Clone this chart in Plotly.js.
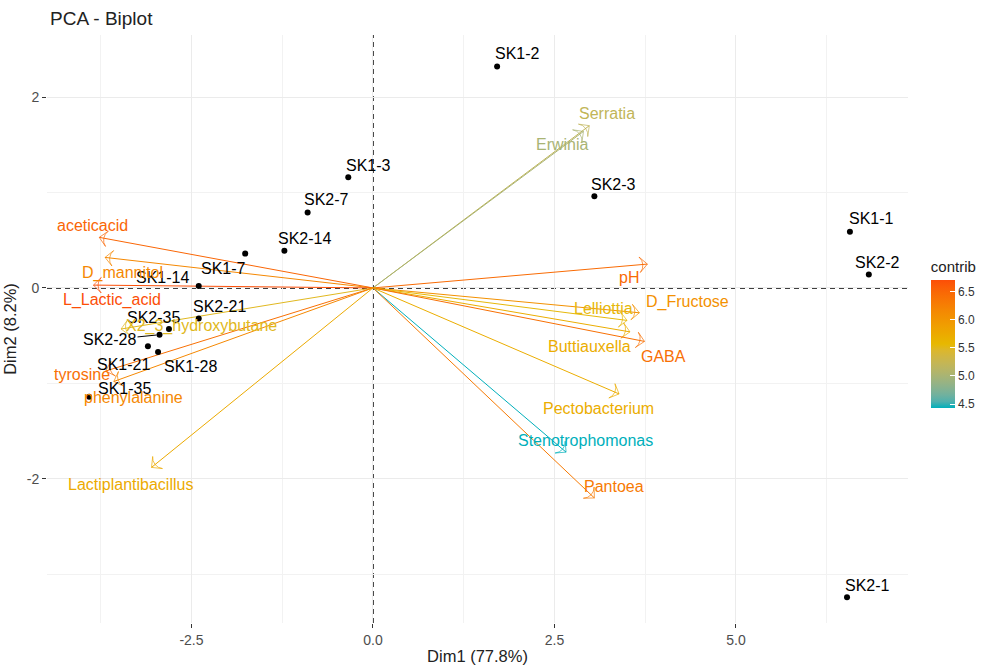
<!DOCTYPE html>
<html>
<head>
<meta charset="utf-8">
<script src="https://cdn.plot.ly/plotly-3.0.1.min.js"></script>
<style>
html,body{margin:0;padding:0;background:#fff;}
#chart{width:992px;height:666px;}
</style>
</head>
<body>
<div id="chart"></div>
<script>
// ---- Individuals (samples) ----
const indNames = ["SK1-1","SK1-2","SK1-3","SK1-7","SK1-14","SK1-21","SK1-28","SK1-35",
                  "SK2-1","SK2-2","SK2-3","SK2-7","SK2-14","SK2-21","SK2-28","SK2-35"];
const indX = [6.57, 1.71, -0.34, -1.76, -2.40, -3.10, -2.96, -3.91,
              6.53, 6.83, 3.05, -0.90, -1.22, -2.40, -2.94, -2.81];
const indY = [0.59, 2.32, 1.16, 0.36, 0.02, -0.61, -0.67, -1.14,
              -3.24, 0.14, 0.96, 0.79, 0.39, -0.32, -0.49, -0.43];

// ---- Variables (arrows) ----
const varNames = ["aceticacid","D_mannitol","L_Lactic_acid","X2_3_hydroxybutane","tyrosine",
                  "phenylalanine","Lactiplantibacillus","Serratia","Erwinia","pH","D_Fructose",
                  "Lelliottia","Buttiauxella","GABA","Pectobacterium","Stenotrophomonas","Pantoea"];
const varX = [-3.77, -3.69, -3.85, -3.47, -3.68, -3.57, -3.05, 2.98, 2.90, 3.78, 3.67,
              3.50, 3.54, 3.74, 3.39, 2.66, 3.05];
const varY = [0.53, 0.32, 0.03, -0.43, -0.87, -0.98, -1.88, 1.70, 1.64, 0.25, -0.26,
              -0.34, -0.46, -0.56, -1.11, -1.72, -2.20];
const varContrib = [6.50, 6.15, 6.70, 5.50, 6.40, 6.15, 5.75, 5.20, 5.00, 6.45, 6.05,
                    5.55, 5.70, 6.40, 5.70, 4.43, 6.30];

// ---- Axis ticks ----
const xTickVals = [-2.5, 0, 2.5, 5];
const xTickText = ["-2.5", "0.0", "2.5", "5.0"];
const yTickVals = [-2, 0, 2];
const yTickText = ["-2", "0", "2"];
const cbTickVals = [4.5, 5.0, 5.5, 6.0, 6.5];
const cbTickText = ["4.5", "5.0", "5.5", "6.0", "6.5"];

// ---- Label nudges in pixels (styling, repel-like placement) ----
const indLabDx = [22, 20, 20, -22, -36, -24, 32, 35, 20, 9, 19, 19, 20, 21, -50, -15];
const indLabDy = [-13, -13, -12, 15, -9, 18, 15, -8, -12, -12, -12, -13, -12, -12, 5, -12];
const indLabSeg = [0,0,0,0,0,0,0,0,0,0,0,0,0,0,1,0];
const varLabDx = [-7, 17, 19, 80, -24, 20, -21, 18, -21, -18, 48, -24, -40, 19, -21, 19, 20];
const varLabDy = [-12, 16, 15, -3, 3, 16, 17, -12, 13, 13, -11, -12, 15, 15, 15, -12, -11];

// gradient colours (teal -> gold -> orange-red), interpolated in Lab space like ggplot
const gradCols = ["#00AFBB", "#E7B800", "#FC4E07"];

function hexToRgb(h){return [parseInt(h.slice(1,3),16),parseInt(h.slice(3,5),16),parseInt(h.slice(5,7),16)];}
function srgbToLin(c){c/=255;return c<=0.04045?c/12.92:Math.pow((c+0.055)/1.055,2.4);}
function linToSrgb(c){const v=c<=0.0031308?12.92*c:1.055*Math.pow(c,1/2.4)-0.055;return Math.max(0,Math.min(255,Math.round(v*255)));}
const WX=0.95047, WY=1, WZ=1.08883;
function fLab(t){return t>0.008856?Math.cbrt(t):(7.787*t+16/116);}
function fInv(t){return t>0.206893?t*t*t:(t-16/116)/7.787;}
function rgbToLab(rgb){
  const [r,g,b]=rgb.map(srgbToLin);
  const X=(0.4124*r+0.3576*g+0.1805*b)/WX, Y=(0.2126*r+0.7152*g+0.0722*b)/WY, Z=(0.0193*r+0.1192*g+0.9505*b)/WZ;
  const fx=fLab(X), fy=fLab(Y), fz=fLab(Z);
  return [116*fy-16, 500*(fx-fy), 200*(fy-fz)];
}
function labToRgb(lab){
  const fy=(lab[0]+16)/116, fx=fy+lab[1]/500, fz=fy-lab[2]/200;
  const X=fInv(fx)*WX, Y=fInv(fy)*WY, Z=fInv(fz)*WZ;
  const r=3.2406*X-1.5372*Y-0.4986*Z, g=-0.9689*X+1.8758*Y+0.0415*Z, b=0.0557*X-0.2040*Y+1.0570*Z;
  return [linToSrgb(r),linToSrgb(g),linToSrgb(b)];
}
const gradLab = gradCols.map(c=>rgbToLab(hexToRgb(c)));
function gradAt(t){
  t=Math.max(0,Math.min(1,t));
  const seg=t<0.5?0:1, f=(t-seg*0.5)/0.5;
  const a=gradLab[seg], b=gradLab[seg+1];
  const lab=a.map((x,k)=>x+(b[k]-x)*f);
  return "rgb("+labToRgb(lab).join(",")+")";
}
const colorscale = [];
for (let i=0;i<=20;i++){ colorscale.push([i/20, gradAt(i/20)]); }

const cMin = Math.min(...varContrib), cMax = Math.max(...varContrib);
function colorFor(v){ return gradAt((v - cMin) / (cMax - cMin)); }

const FONT = "Liberation Sans, Arial, Helvetica, sans-serif";
const traces = [];

// arrows
varNames.forEach((n, i) => {
  const col = colorFor(varContrib[i]);
  traces.push({
    type: "scatter", mode: "lines+markers",
    x: [0, varX[i]], y: [0, varY[i]],
    line: {color: col, width: 1},
    marker: {symbol: ["circle", "arrow-wide-open"], size: [0, 11], color: col,
             angleref: "previous", line: {width: 1, color: col}},
    hoverinfo: "skip", showlegend: false
  });
});

// individuals points
traces.push({
  type: "scatter", mode: "markers",
  x: indX, y: indY,
  marker: {color: "#000", size: 6},
  hoverinfo: "skip", showlegend: false
});

// colorbar carrier
traces.push({
  type: "scatter", mode: "markers",
  x: varX, y: varY,
  marker: {color: varContrib, colorscale: colorscale, cmin: cMin, cmax: cMax, size: 0.1, opacity: 0,
           showscale: true,
           colorbar: {
             title: {text: "contrib", side: "top", font: {family: FONT, size: 15, color: "#222"}},
             thickness: 24, thicknessmode: "pixels",
             len: 150, lenmode: "pixels",
             x: 1.0265, xanchor: "left", xref: "paper",
             y: 0.493, yanchor: "middle", yref: "paper",
             tickvals: cbTickVals, ticktext: cbTickText,
             ticks: "inside", ticklen: 5, tickcolor: "#fff", tickwidth: 1,
             tickfont: {family: FONT, size: 12, color: "#333"},
             outlinewidth: 0, bgcolor: "rgba(0,0,0,0)", xpad: 0, ypad: 0
           }},
  hoverinfo: "skip", showlegend: false
});

const annotations = [];
indNames.forEach((n, i) => {
  if (indLabSeg[i]) {
    annotations.push({
      x: indX[i], y: indY[i], xref: "x", yref: "y", text: n,
      showarrow: true, arrowhead: 0, arrowwidth: 1, arrowcolor: "#000",
      ax: indLabDx[i], ay: indLabDy[i], standoff: 3,
      font: {family: FONT, size: 16, color: "#000"}
    });
  } else {
    annotations.push({
      x: indX[i], y: indY[i], xref: "x", yref: "y", text: n, showarrow: false,
      xshift: indLabDx[i], yshift: -indLabDy[i],
      xanchor: "center", yanchor: "middle",
      font: {family: FONT, size: 16, color: "#000"}
    });
  }
});
varNames.forEach((n, i) => {
  annotations.push({
    x: varX[i], y: varY[i], xref: "x", yref: "y", text: n, showarrow: false,
    xshift: varLabDx[i], yshift: -varLabDy[i],
    xanchor: "center", yanchor: "middle",
    font: {family: FONT, size: 16, color: colorFor(varContrib[i])}
  });
});

const layout = {
  width: 992, height: 666,
  margin: {l: 47, r: 77, t: 35, b: 43},
  paper_bgcolor: "#fff", plot_bgcolor: "#fff",
  title: {text: "PCA - Biplot", x: 50/992, xanchor: "left", xref: "container",
          y: 1 - 18/666, yanchor: "middle", yref: "container",
          font: {family: FONT, size: 19, color: "#222"}},
  xaxis: {
    range: [-4.49, 7.37], zeroline: false, showline: false,
    tickmode: "array", tickvals: xTickVals, ticktext: xTickText,
    ticks: "outside", ticklen: 4, tickcolor: "#333", tickwidth: 1,
    tickfont: {family: FONT, size: 14, color: "#4D4D4D"},
    showgrid: true, gridcolor: "#EBEBEB", gridwidth: 1,
    minor: {tickmode: "linear", tick0: 0, dtick: 1.25, showgrid: true, gridcolor: "#F2F2F2", gridwidth: 1, ticks: ""},
    title: {text: "Dim1 (77.8%)", standoff: 3, font: {family: FONT, size: 16.5, color: "#222"}},
    automargin: false, fixedrange: true
  },
  yaxis: {
    range: [-3.51, 2.65], zeroline: false, showline: false,
    tickmode: "array", tickvals: yTickVals, ticktext: yTickText,
    ticks: "outside", ticklen: 4, tickcolor: "#333", tickwidth: 1,
    tickfont: {family: FONT, size: 14, color: "#4D4D4D"},
    showgrid: true, gridcolor: "#EBEBEB", gridwidth: 1,
    minor: {tickmode: "linear", tick0: 0, dtick: 1, showgrid: true, gridcolor: "#F2F2F2", gridwidth: 1, ticks: ""},
    title: {text: "Dim2 (8.2%)", standoff: 5, font: {family: FONT, size: 16.5, color: "#222"}},
    automargin: false, fixedrange: true
  },
  shapes: [
    {type: "line", xref: "x", yref: "paper", x0: 0, x1: 0, y0: 0, y1: 1,
     line: {color: "#000", width: 1.5, dash: "5px,4px"}, layer: "below"},
    {type: "line", xref: "paper", yref: "y", x0: 0, x1: 1, y0: 0, y1: 0,
     line: {color: "#000", width: 1.5, dash: "5px,4px"}, layer: "below"}
  ],
  annotations: annotations,
  showlegend: false
};

Plotly.newPlot("chart", traces, layout, {displayModeBar: false, staticPlot: true});
</script>
</body>
</html>
